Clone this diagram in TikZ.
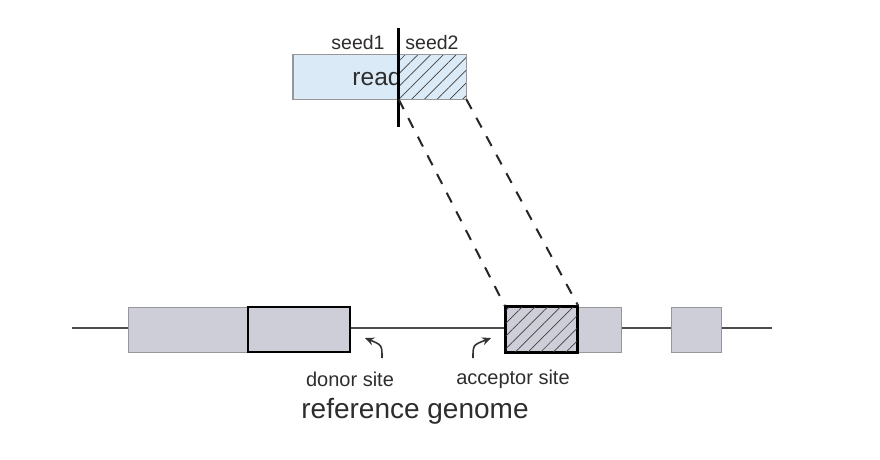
\documentclass[tikz,border=0pt]{standalone}
\usepackage{fontspec}
\setmainfont{Liberation Sans}
\usetikzlibrary{patterns.meta,arrows.meta}
\definecolor{readblue}{RGB}{219,234,247}
\definecolor{exongray}{RGB}{206,206,217}
\definecolor{bordergray}{RGB}{150,150,155}
\definecolor{txt}{RGB}{45,45,45}
\tikzset{
  readbox/.style={rectangle, draw=bordergray, line width=1pt, fill=readblue, inner sep=0pt, minimum height=44pt},
  hatch/.style={pattern={Lines[angle=45,distance=9pt,line width=0.7pt]}, pattern color=black!75},
  exon/.style={rectangle, draw=bordergray, line width=1pt, fill=exongray, inner sep=0pt, minimum height=45pt},
  keyexon/.style={exon, draw=black, line width=2.4pt},
  lbl/.style={text=txt, font=\fontsize{20pt}{22pt}\selectfont, inner sep=1pt},
  seedlbl/.style={text=txt, font=\fontsize{19.5pt}{21pt}\selectfont, inner sep=1pt},
  readlbl/.style={text=txt, font=\fontsize{24.5pt}{27pt}\selectfont, inner sep=1pt},
  biglbl/.style={text=txt, font=\fontsize{28pt}{31pt}\selectfont, inner sep=1pt},
  maplink/.style={draw=black!85, line width=2pt, dash pattern=on 11pt off 10pt},
  pointer/.style={draw=black!80, line width=1.6pt, -{Stealth[length=9pt,width=8pt]}},
}
\begin{document}
\begin{tikzpicture}[x=1pt,y=-1pt]
\path[use as bounding box] (0,0) rectangle (880,460);

% read
\node[readbox, minimum width=173pt] (read) at (379.5,77) {};
\node[rectangle, hatch, inner sep=0pt, minimum width=67pt, minimum height=44pt] (seedtwo) at (432.5,77) {};
\draw[bordergray, line width=1pt] (read.north west) rectangle (read.south east);
\node[readlbl] (readtxt) at (377,77) {read};
\node[seedlbl] (s1) at (358,43) {seed1};
\node[seedlbl] (s2) at (432,43) {seed2};
\coordinate (vt) at (398,28);
\coordinate (vb) at (398,127);
\draw[black, line width=3pt] (vt) -- (vb);

% genome
\coordinate (gl) at (72,328);
\coordinate (gr) at (772,328);
\draw[black!70, line width=2pt] (gl) -- (gr);
\node[exon, minimum width=120pt] (e1a) at (188,329.5) {};
\node[keyexon, minimum width=102pt] (donor) at (299,329.5) {};
\node[exon, minimum width=44pt] (e2b) at (599,329.5) {};
\node[exon, minimum width=50pt] (e3) at (696,329.5) {};
\node[keyexon, minimum width=71pt, postaction={hatch}] (acc) at (541.5,329.5) {};
\draw[black, line width=2.4pt] (acc.north west) rectangle (acc.south east);

% mapping lines
\draw[maplink] (seedtwo.south west) -- (acc.north west);
\draw[maplink] (seedtwo.south east) -- (acc.north east);

% labels
\node[lbl] (dl) at (350,379) {donor site};
\node[lbl] (al) at (513,379) {acceptor site};
\node[biglbl] (rg) at (415,411) {reference genome};
\coordinate (dtail) at (382,358);
\coordinate (dhead) at (365,338);
\coordinate (atail) at (473,358);
\coordinate (ahead) at (491,338);
\draw[pointer] (dtail) .. controls (382,345) .. (dhead);
\draw[pointer] (atail) .. controls (473,345) .. (ahead);
\end{tikzpicture}
\end{document}
